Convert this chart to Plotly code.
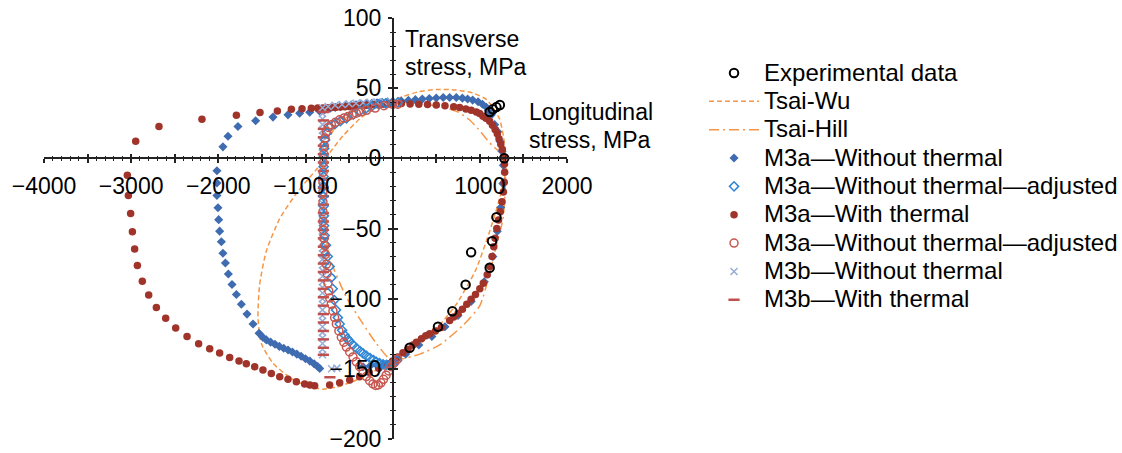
import plotly.graph_objects as go

# ---------------- data ----------------
exp_x = [1113, 1150, 1190, 1230, 1280, 1190, 1140, 900, 1113, 837, 685, 520, 195]
exp_y = [33, 35, 36.5, 38, 0, -42, -59, -67, -78, -90, -109, -120, -135]

tw_x = [1300, 1290, 1270, 1227, 1151, 1075, 921, 730, 501, 300, 118, -50, -187, -380, -570, -723, -875,
        -1000, -1105, -1296, -1449, -1526, -1545, -1506, -1373, -1182, -990, -800, -646, -455, -250, -60,
        42, 180, 310, 520, 730, 950, 1113, 1230, 1300]
tw_y = [-8, 5, 16, 28, 36, 42, 46.5, 48.7, 49, 47.5, 44, 40.5, 37, 28, 16, 4, -8,
        -17, -25, -43, -66, -90, -113, -132, -146, -156, -162, -164.5, -163, -159, -153, -146,
        -141.5, -137, -132, -120, -104, -80, -52, -28, -8]

th_x = [0, 200, 400, 600, 750, 880, 980, 1060, 1113, 1200, 1260, 1290,
        1295, 1290, 1266, 1190, 1100, 1000, 806, 539, 310, 80, 0,
        -187, -340, -531, -723, -761, -790, -800, -800,
        -683, -550, -370, -180, 0]
th_y = [40, 39.6, 38.3, 36, 33, 27.5, 21, 15, 11, 6, 2.5, 0,
        -10, -22, -43, -62, -85, -105, -119, -133, -139.5, -143.5, -145,
        -132, -118, -99, -71, -59, -40, -20, 0,
        20, 28, 35, 38.5, 40]

m3a_wo_x = [0, -60, -120, -180, -240, -300, -360, -420, -480, -540, -600, -660, -720, -780, -840,
            -952, -1067, -1201, -1373, -1572, -1775, -1889, -1947,
            -2016, -2016, -2016, -2004, -1996, -1985, -1965, -1947, -1919, -1885, -1843, -1793, -1736,
            -1671, -1602, -1533, -1490, -1449, -1400, -1350, -1300, -1250, -1200, -1150, -1100, -1050,
            -1000, -950, -900, -860, -837,
            -340, -260, -180, -100, -30, 40,
            150, 300, 450, 600, 750, 900, 1050, 1150, 1200, 1240, 1265, 1270, 1255, 1232, 1205, 1170,
            1132, 1100, 1075, 1030, 980, 918, 860, 800, 730, 654, 580, 500, 420, 340, 260, 180, 100]
m3a_wo_y = [40.5, 40.2, 39.9, 39.6, 39.3, 39, 38.6, 38.2, 37.8, 37.3, 36.8, 36.2, 35.5, 34.6, 33.8,
            32.9, 32.2, 31, 29.4, 26.8, 22.7, 15.7, 8.2,
            -8.9, -17.6, -26.5, -35.2, -43.7, -51.9, -59.4, -67.6, -74.6, -82.4, -89.9, -97, -104,
            -111, -118.1, -124.6, -127.5, -129.4, -131, -132.5, -134, -135.3, -136.6, -138, -139.5, -141,
            -142.8, -144.5, -146.5, -148.3, -149.8,
            -148.5, -148, -147.5, -147, -146, -143.5,
            -139.5, -133, -127, -120, -112, -102, -88, -70, -52, -35, -18, -5, 5, 12, 19, 24,
            31, 34, 36.4, 38.5, 40.3, 41.5, 42.3, 42.9, 43.3, 43.4, 43.3, 43, 42.6, 42.2, 41.8, 41.3, 40.9]

m3a_woa_x = [60, 0, -80, -160, -240, -310, -380, -450, -530, -600, -660, -720, -755, -775, -785, -790,
             -792, -793, -793, -793, -792, -790, -787, -780, -765, -745, -723, -705, -688, -670, -650,
             -630, -608, -580, -550, -520, -493, -455, -415, -375, -340, -300, -260, -220, -187, -150,
             -110, -70, -34, 10, 50]
m3a_woa_y = [39.8, 39.6, 39.2, 38.4, 37, 35.3, 33.5, 31.3, 28.5, 26.5, 24.5, 22.5, 18, 13, 7, 1,
             -6, -13, -20, -27, -34, -41, -48, -55, -62, -70, -77, -85, -93, -101, -108,
             -113.5, -118, -122.5, -126, -128.5, -130.5, -133, -135.3, -137.3, -139, -140.8, -142.3, -143.7, -145, -146,
             -146.8, -147.2, -147.4, -146, -144]

m3a_w_x = [0, -50, -100, -150, -200, -250, -300, -350, -400, -450, -500, -550, -600, -650, -700, -750, -800,
           -860, -933, -1040, -1162, -1323, -1522, -1793, -2188, -2681, -2948,
           -3044, -3032, -3006, -2986, -2960, -2929, -2872, -2799, -2711, -2604, -2489, -2359, -2226, -2099,
           -1985, -1870, -1763, -1679, -1583, -1488, -1392, -1296, -1201, -1105, -1010, -950, -895,
           -723, -608, -493, -379, -270, -160, -60, 0,
           60, 118, 175, 233, 272, 330, 380, 424, 490, 559,
           654, 700, 750, 800, 850, 900, 950, 1000, 1040, 1085, 1115, 1140, 1160, 1175, 1195, 1215, 1235,
           1255, 1270, 1280, 1285, 1283,
           1275, 1258, 1240, 1220, 1200, 1175, 1145, 1113, 1070, 1036, 998, 960, 900, 840, 768, 700, 600,
           500, 400, 300, 200, 100]
m3a_w_y = [39, 38.8, 38.6, 38.4, 38.2, 38, 37.8, 37.6, 37.4, 37.2, 37, 36.8, 36.6, 36.4, 36.2, 36, 35.9,
           35.8, 35.7, 35.4, 35, 33.8, 32.6, 30.7, 27.9, 22.7, 12.2,
           -12, -26.5, -39.4, -52.3, -64.6, -76.3, -87.6, -97.4, -106.3, -114, -120.9, -127, -132.2, -135.7,
           -138.7, -142, -144.4, -146.3, -148.6, -150.9, -153.3, -155.6, -157.5, -159.2, -160.8, -161.5, -162,
           -161.5, -160, -158, -155.6, -152.5, -149.5, -146.5, -144.5,
           -141.5, -138.5, -136, -133, -131, -128.5, -126.5, -125, -123, -120.5,
           -115.5, -113, -110.5, -107.5, -104, -100.5, -97, -93, -89, -83, -77, -70, -63, -57, -50, -44, -38,
           -31, -24, -17, -10, -4,
           1, 6.3, 10, 14, 17.5, 20.5, 23.5, 26.5, 28.5, 30, 32, 33, 34.2, 35.2, 36.2, 36.8, 37.5,
           38, 38.3, 38.6, 38.8, 39]

m3a_wa_x = [60, 0, -100, -200, -300, -360, -417, -465, -512, -560, -608, -655, -703, -740, -761, -775, -785,
            -790, -795, -798, -800, -800, -800, -800, -799, -795, -788, -780, -771, -761, -752, -742, -733,
            -723, -705, -685, -666, -646, -617, -589, -560, -531, -493, -455, -417, -379, -340, -302, -264,
            -226, -195, -165, -135, -105, -75, -45, -15, 20, 55]
m3a_wa_y = [38.6, 38.5, 37.5, 35.8, 34.2, 33.2, 32.2, 31, 29.8, 28.7, 27.5, 25.8, 24, 22, 19, 14.5, 9,
            3, -3, -10, -17, -24, -31, -38, -45, -51, -57, -62, -68.5, -75.5, -82, -89, -94.5,
            -99.5, -104, -108.7, -113.5, -118, -123, -127.5, -131, -134.5, -138, -141.5, -145, -148.5, -152, -155.5, -158.5,
            -160.8, -161.8, -161.5, -160, -157.5, -154.5, -151.5, -148.5, -145.5, -143]

m3b_wo_x = [-805] * 45 + [-740, -660, -580, -500, -420, -340, -260, -180, -100, -20, -700, -640]
m3b_wo_y = [36, 32, 28, 24, 20, 16, 12, 8, 4, 0, -4, -8, -12, -16, -20, -24, -28, -32, -36, -40,
            -44, -48, -52, -56, -60, -64, -68, -72, -76, -80, -84, -88, -92, -96, -100, -104, -108,
            -112, -116, -120, -124, -128, -132, -136, -140,
            37, 37.8, 38.4, 38.9, 39.3, 39.6, 39.9, 40.1, 40.3, 40.5, -150, -149.5]

m3b_w_x = [-795] * 30 + [-720]
m3b_w_y = [33, 27, 21, 15, 9, 3, -3, -9, -15, -21, -27, -33, -39, -45, -51, -57, -63, -69, -75, -81,
           -87, -93, -99, -105, -111, -117, -123, -129, -135, -140, -156]

x_tick_vals = [-4000, -3500, -3000, -2500, -2000, -1500, -1000, -500, 0, 500, 1000, 1500, 2000]
x_tick_text = ['\u22124000', '', '\u22123000', '', '\u22122000', '', '\u22121000', '', '', '', '1000', '', '2000']
y_tick_vals = [-200, -150, -100, -50, 0, 50, 100]
y_tick_text = ['\u2212200', '\u2212150', '\u2212100', '\u221250', '0', '50', '100']

series_names = ['Experimental data', 'Tsai-Wu', 'Tsai-Hill', 'M3a\u2014Without thermal',
                'M3a\u2014Without thermal\u2014adjusted', 'M3a\u2014With thermal',
                'M3a\u2014Without thermal\u2014adjusted', 'M3b\u2014Without thermal', 'M3b\u2014With thermal']

# ---------------- styles ----------------
FONT = 'Liberation Sans, Arial, sans-serif'
ORANGE = '#F79646'
RED = '#A0342A'
BLUE = '#3F6CB0'
OBLUE = '#2E86D4'
ORED = '#C8574F'
XBLUE = '#97ACD6'
DRED = '#C0504D'
AX = '#222222'


def big(s, px=24):
    return '<span style="font-size:%spx">%s</span>' % (px, s)


fig = go.Figure()
fig.add_trace(go.Scatter(x=tw_x, y=tw_y, mode='lines', name=big(series_names[1]), legendrank=2,
                         line=dict(color=ORANGE, width=1.5, dash='5px,3px', shape='spline', smoothing=0.6)))
fig.add_trace(go.Scatter(x=th_x, y=th_y, mode='lines', name=big(series_names[2]), legendrank=3,
                         line=dict(color=ORANGE, width=1.5, dash='10px,4px,2px,4px', shape='spline', smoothing=0.6)))
fig.add_trace(go.Scatter(x=m3a_wo_x, y=m3a_wo_y, mode='markers', name=big(series_names[3]), legendrank=4,
                         marker=dict(symbol='diamond', size=7, color=BLUE)))
fig.add_trace(go.Scatter(x=m3a_w_x, y=m3a_w_y, mode='markers', name=big(series_names[5]), legendrank=6,
                         marker=dict(symbol='circle', size=7.5, color=RED)))
fig.add_trace(go.Scatter(x=m3b_wo_x, y=m3b_wo_y, mode='markers', name=big(series_names[7]), legendrank=8,
                         marker=dict(symbol='x-thin', size=7, color=XBLUE, line=dict(color=XBLUE, width=1.5))))
fig.add_trace(go.Scatter(x=m3b_w_x, y=m3b_w_y, mode='markers', name=big(series_names[8]), legendrank=9,
                         marker=dict(symbol='line-ew', size=8, color=DRED, line=dict(color=DRED, width=2.5))))
fig.add_trace(go.Scatter(x=m3a_woa_x, y=m3a_woa_y, mode='markers', name=big(series_names[4]),
                         legendrank=5, marker=dict(symbol='diamond-open', size=7, color=OBLUE,
                                                   line=dict(color=OBLUE, width=1.5))))
fig.add_trace(go.Scatter(x=m3a_wa_x, y=m3a_wa_y, mode='markers', name=big(series_names[6]),
                         legendrank=7, marker=dict(symbol='circle-open', size=8, color=ORED,
                                                   line=dict(color=ORED, width=1.5))))
fig.add_trace(go.Scatter(x=exp_x, y=exp_y, mode='markers', name=big(series_names[0]), legendrank=1,
                         marker=dict(symbol='circle-open', size=8.5, color='black', line=dict(color='black', width=2))))
# helper trace so that the overlaid (inside-tick) axes are drawn
fig.add_trace(go.Scatter(x=[None], y=[None], xaxis='x2', yaxis='y2', showlegend=False, hoverinfo='skip'))

tickfont = dict(family=FONT, size=23, color='black')
common_x = dict(range=[-4000, 2000], domain=[0, 1], anchor='free', position=2 / 3, showgrid=False, zeroline=False,
                tickmode='array', tickvals=x_tick_vals, ticklen=4, tickwidth=1.5, tickcolor=AX, automargin=False)
common_y = dict(range=[-200, 100], domain=[0, 1], anchor='free', position=2 / 3, showgrid=False, zeroline=False,
                tickmode='array', tickvals=y_tick_vals, ticklen=4, tickwidth=1.5, tickcolor=AX, automargin=False)

fig.update_layout(
    width=1122, height=453,
    margin=dict(l=44, r=555, t=18, b=14, autoexpand=False),
    paper_bgcolor='white', plot_bgcolor='white',
    font=dict(family=FONT, size=21, color='black'),
    xaxis=dict(**common_x, ticktext=x_tick_text, ticks='outside', showline=True, linecolor=AX, linewidth=1.5,
               tickfont=tickfont, ticklabelstandoff=3, ticklabeloverflow='allow',
               minor=dict(tickmode='linear', tick0=0, dtick=100, ticks='outside', ticklen=2, tickwidth=1,
                          tickcolor=AX)),
    xaxis2=dict(**common_x, overlaying='x', ticks='inside', showticklabels=False, showline=False,
                minor=dict(tickmode='linear', tick0=0, dtick=100, ticks='inside', ticklen=2, tickwidth=1,
                           tickcolor=AX)),
    yaxis=dict(**common_y, ticktext=y_tick_text, ticks='outside', showline=True, linecolor=AX, linewidth=1.5,
               tickfont=tickfont, ticklabelstandoff=2, ticklabeloverflow='allow',
               minor=dict(tickmode='linear', tick0=0, dtick=10, ticks='outside', ticklen=2, tickwidth=1,
                          tickcolor=AX)),
    yaxis2=dict(**common_y, overlaying='y', side='left', ticks='inside', showticklabels=False, showline=False,
                minor=dict(tickmode='linear', tick0=0, dtick=10, ticks='inside', ticklen=2, tickwidth=1,
                           tickcolor=AX)),
    legend=dict(x=1.262, xanchor='left', y=0.915, yanchor='top', bgcolor='rgba(0,0,0,0)', itemwidth=50,
                font=dict(family=FONT, size=19.5, color='black'), traceorder='normal'),
    showlegend=True,
    annotations=[
        dict(text=big('Transverse', 23) + '<br>' + big('stress, MPa', 23), x=115, y=95.8, xref='x', yref='y',
             xanchor='left', yanchor='top', align='left', showarrow=False,
             font=dict(family=FONT, size=21.5, color='black')),
        dict(text=big('Longitudinal', 23) + '<br>' + big('stress, MPa', 23), x=1537, y=43.5, xref='x', yref='y',
             xanchor='left', yanchor='top', align='left', showarrow=False,
             font=dict(family=FONT, size=21.5, color='black')),
    ],
)

fig.write_html('out.html')
